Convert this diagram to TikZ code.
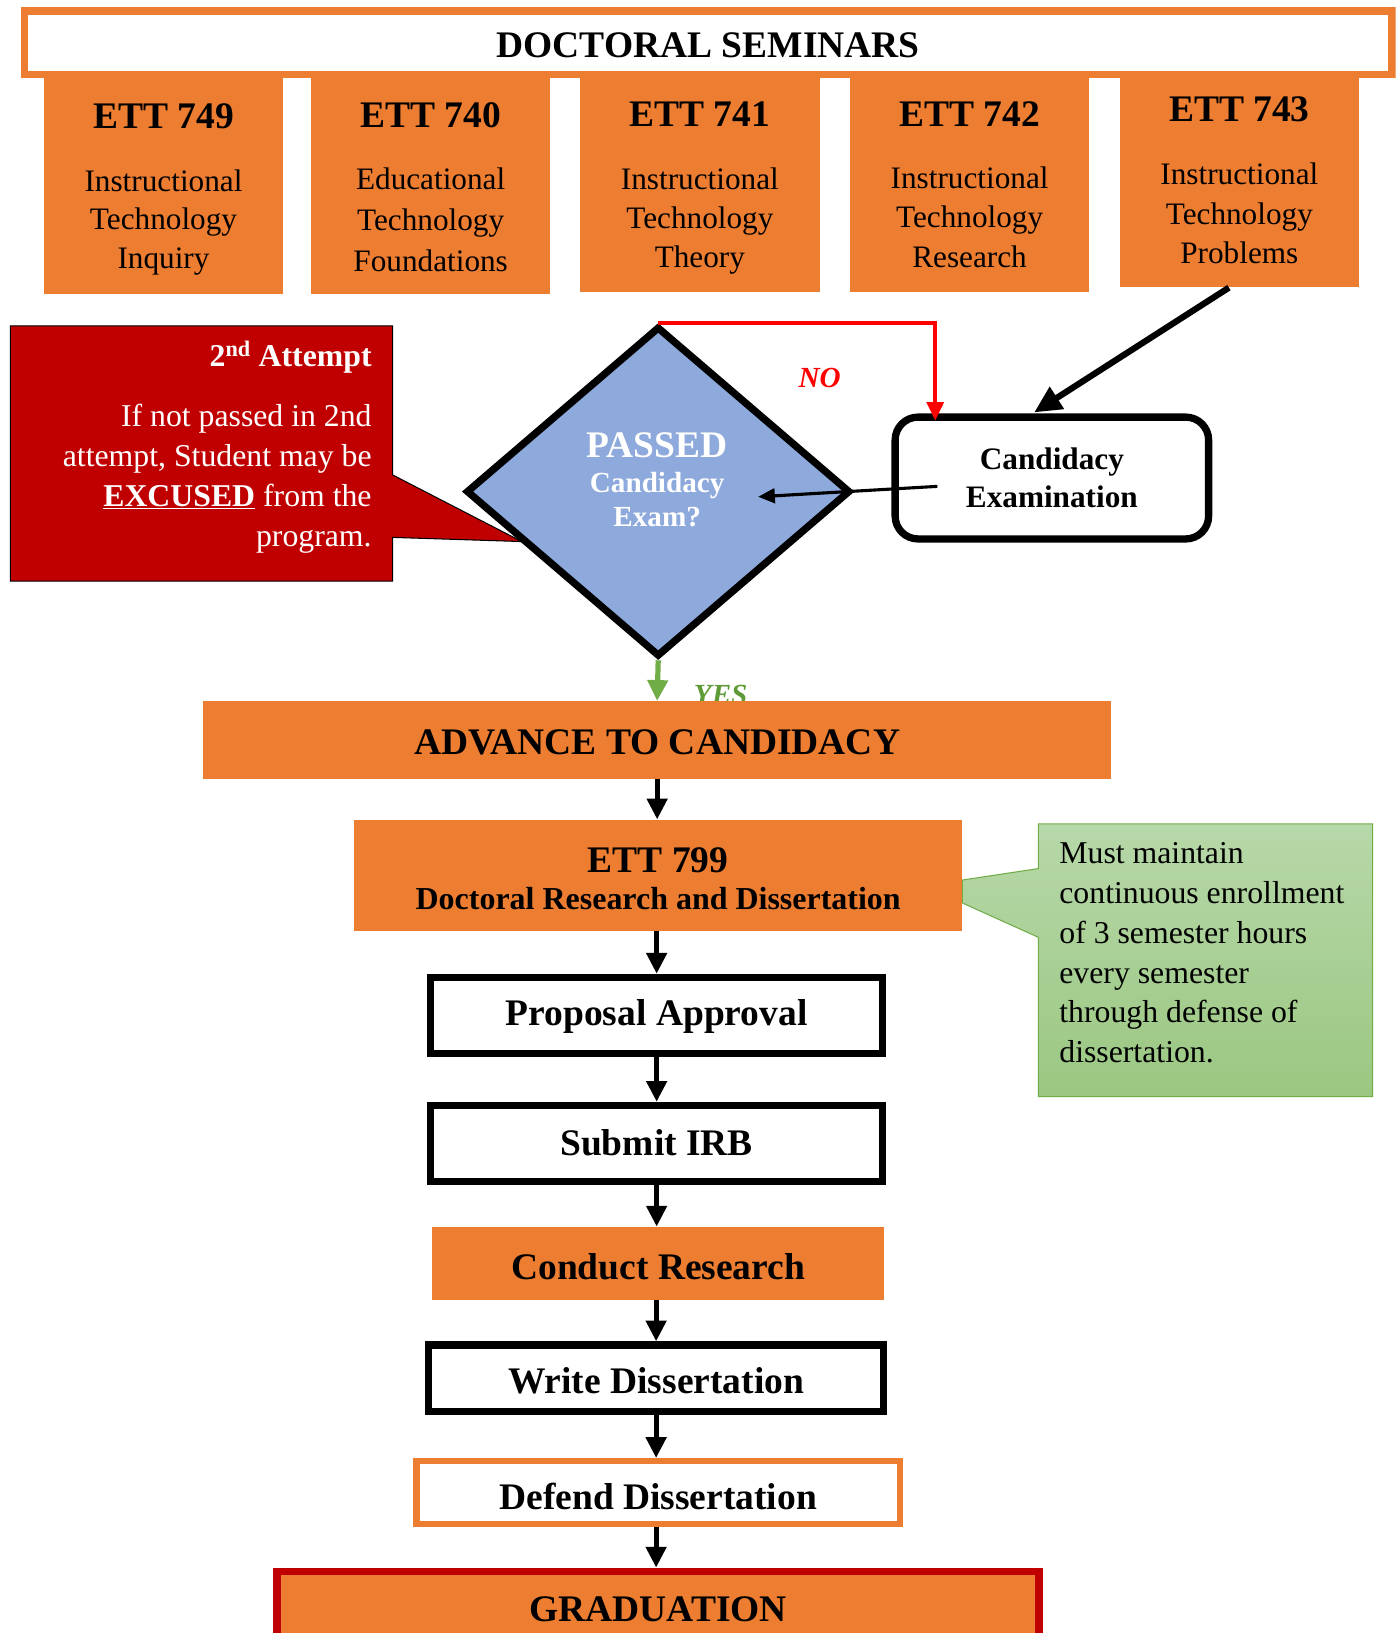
\documentclass[tikz,border=0pt]{standalone}
\usepackage{fontspec}
\setmainfont{Liberation Serif}
\usetikzlibrary{shapes.geometric,arrows.meta}
\definecolor{orng}{HTML}{ED7D31}
\definecolor{diablue}{HTML}{8EA9DB}
\definecolor{dred}{HTML}{C00000}
\definecolor{gtop}{HTML}{B7D8A9}
\definecolor{gbot}{HTML}{9BC781}
\definecolor{gline}{HTML}{70AD47}
\definecolor{yesg}{HTML}{5E9A35}
\newcommand{\ettnum}[1]{{\fontsize{36}{37}\selectfont\bfseries #1}}
\newcommand{\lowr}[2]{\raisebox{-#1}[\height][\depth]{#2}}
\begin{document}
\begin{tikzpicture}[x=1pt,y=-1pt,
  ettbox/.style={fill=orng, minimum width=230pt, inner sep=0pt, align=center, font=\fontsize{30}{37}\selectfont},
  blackbox/.style={draw=black, fill=white, line width=7pt, inner sep=0pt, font=\fontsize{36}{36}\selectfont\bfseries},
  orangebox/.style={fill=orng, inner sep=0pt, font=\fontsize{36}{36}\selectfont\bfseries},
  arr/.style={line width=5pt, -{Triangle[length=20pt,width=19pt]}},
]
\useasboundingbox (0,0) rectangle (1340,1568);
\clip (0,0) rectangle (1340,1568);

% banner
\node[draw=orng, line width=7pt, fill=white, minimum width=1313pt, minimum height=61pt, inner sep=0pt,
      font=\fontsize{36}{36}\selectfont\bfseries] (banner) at (680,41) {\lowr{2pt}{DOCTORAL SEMINARS}};

% seminar boxes
\node[ettbox, minimum height=207pt] (e749) at (157,178.5) {\lowr{4.5pt}{\begin{tabular}{@{}c@{}}\ettnum{ETT 749}\\[23pt]Instructional\\Technology\\Inquiry\end{tabular}}};
\node[ettbox, minimum height=207pt] (e740) at (413.5,178.5) {\lowr{5.5pt}{\begin{tabular}{@{}c@{}}\ettnum{ETT 740}\\[23pt]Educational\\[2pt]Technology\\[2pt]Foundations\end{tabular}}};
\node[ettbox, minimum height=205pt] (e741) at (672,177.5) {\lowr{4.5pt}{\begin{tabular}{@{}c@{}}\ettnum{ETT 741}\\[23pt]Instructional\\[0.5pt]Technology\\[0.5pt]Theory\end{tabular}}};
\node[ettbox, minimum height=205pt] (e742) at (931,177.5) {\lowr{4pt}{\begin{tabular}{@{}c@{}}\ettnum{ETT 742}\\[23pt]Instructional\\[0.5pt]Technology\\[0.5pt]Research\end{tabular}}};
\node[ettbox, minimum height=201pt] (e743) at (1190,175.5) {\lowr{2pt}{\begin{tabular}{@{}c@{}}\ettnum{ETT 743}\\[24pt]Instructional\\[1pt]Technology\\[1pt]Problems\end{tabular}}};

% red callout
\filldraw[fill=dred, draw=black, line width=1pt]
  (10,313) -- (377,313) -- (377,456) -- (501,520) -- (377,516) -- (377,558) -- (10,558) -- cycle;
\node[anchor=east, align=right, text=white, inner sep=0pt, font=\fontsize{30.5}{38.3}\selectfont] (attxt) at (357,429.5)
  {\textbf{2\textsuperscript{nd} Attempt}\\[20pt]If not passed in 2nd\\attempt, Student may be\\\underline{\textbf{EXCUSED}} from the\\program.};

% diamond
\node[diamond, draw=black, line width=7pt, fill=diablue, minimum width=369pt, minimum height=317pt, inner sep=0pt] (dia) at (632,472) {};
\node[text=white, align=center, inner sep=0pt, font=\fontsize{28}{33}\selectfont\bfseries] (diatxt) at (631,461)
  {{\fontsize{36}{33}\selectfont PASSED}\\Candidacy\\Exam?};

% candidacy examination
\node[draw=black, fill=white, line width=7pt, rounded corners=22pt, minimum width=301pt, minimum height=117pt,
      inner sep=0pt, align=center, font=\fontsize{30}{36}\selectfont\bfseries] (cand) at (1010,459) {Candidacy\\Examination};

\draw[line width=6pt, -{Triangle[length=26pt,width=24pt]}] ([shift={(-10,0)}]e743.south) -- ([shift={(-17,-1)}]cand.north);
\draw[red, line width=4pt, -{Triangle[length=18pt,width=16pt]}] (dia.north) -| ([shift={(-112,7)}]cand.north);
\node[text=red, font=\fontsize{28}{28}\selectfont\bfseries\itshape, inner sep=0pt] (no) at (787,363) {NO};
\draw[line width=3pt, -{Triangle[length=16pt,width=14pt]}] ([shift={(-110,8)}]cand.center) -- ([shift={(96,5)}]dia.center);

% yes
\node[text=yesg, font=\fontsize{28}{28}\selectfont\bfseries\itshape, inner sep=0pt] (yes) at (692,667) {YES};
\draw[gline, line width=5pt, -{Triangle[length=20pt,width=19pt]}] (dia.south) -- (631,673);

% advance
\node[orangebox, minimum width=872pt, minimum height=75pt] (adv) at (631,710.5) {\lowr{2pt}{ADVANCE TO CANDIDACY}};

% green callout
\shadedraw[top color=gtop, bottom color=gbot, draw=gline, line width=1pt]
  (997,791) -- (1318,791) -- (1318,1053) -- (997,1053) -- (997,900) -- (924,867) -- (924,845) -- (997,834) -- cycle;
\node[anchor=north west, align=left, inner sep=0pt, font=\fontsize{30.5}{38.2}\selectfont] (gtxt) at (1017,809)
  {Must maintain\\continuous enrollment\\of 3 semester hours\\every semester\\through defense of\\dissertation.};

% ETT 799
\node[fill=orng, minimum width=584pt, minimum height=107pt, inner sep=0pt, align=center,
      font=\fontsize{30.7}{39}\selectfont\bfseries] (e799) at (632,840.5)
  {\lowr{7pt}{\begin{tabular}{@{}c@{}}{\fontsize{36}{39}\selectfont ETT 799}\\[-3pt]Doctoral Research and Dissertation\end{tabular}}};

% flow boxes
\node[blackbox, minimum width=434pt, minimum height=73pt] (prop) at (630.5,975) {\lowr{1pt}{Proposal Approval}};
\node[blackbox, minimum width=434pt, minimum height=73pt] (irb) at (630.5,1098) {\lowr{-1pt}{Submit IRB}};
\node[orangebox, minimum width=434pt, minimum height=70pt] (cond) at (632,1213) {\lowr{3pt}{Conduct Research}};
\node[blackbox, minimum width=437pt, minimum height=64pt] (write) at (630,1323.5) {\lowr{2pt}{Write Dissertation}};
\node[blackbox, draw=orng, line width=6pt, minimum width=464pt, minimum height=60pt] (defend) at (632,1433) {\lowr{4pt}{Defend Dissertation}};
\node[orangebox, draw=dred, line width=7.5pt, minimum width=732pt, minimum height=72pt] (grad) at (632,1545) {GRADUATION};

\draw[arr] (adv.south) -- (adv.south |- e799.north);
\draw[arr] (e799.south -| prop.north) -- (prop.north);
\draw[arr] (prop.south) -- (prop.south |- irb.north);
\draw[arr] (irb.south) -- (irb.south |- cond.north);
\draw[arr] (cond.south -| write.north) -- (write.north);
\draw[arr] (write.south) -- (write.south |- defend.north);
\draw[arr] (defend.south -| write.south) -- (write.south |- grad.north);
\end{tikzpicture}
\end{document}
